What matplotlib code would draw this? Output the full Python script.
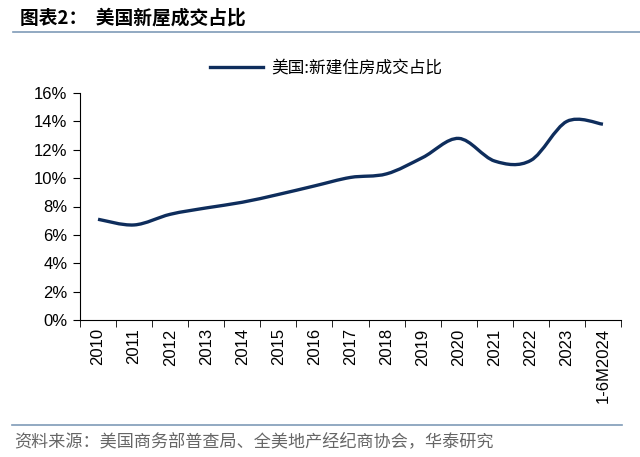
import matplotlib.pyplot as plt
from matplotlib.path import Path
from matplotlib.patches import PathPatch
from matplotlib.lines import Line2D
import numpy as np

plt.rcParams['font.family'] = ['Liberation Sans', 'Noto Sans CJK SC', 'DejaVu Sans']

categories = ["2010", "2011", "2012", "2013", "2014", "2015", "2016", "2017",
              "2018", "2019", "2020", "2021", "2022", "2023", "1-6M2024"]
share = [7.1, 6.7, 7.45, 7.9, 8.3, 8.85, 9.45, 10.05,
         10.3, 11.45, 12.8, 11.2, 11.25, 14.0, 13.8]
series_name = "美国:新建住房成交占比"
line_color = "#0E2D5C"


def smooth_path(xs, ys):
    # Excel-style smoothed line: Bezier segments through every point
    pts = np.column_stack([xs, ys]).astype(float)
    n = len(pts)
    verts = [pts[0]]
    codes = [Path.MOVETO]
    for i in range(n - 1):
        p0 = pts[i - 1] if i > 0 else pts[i]
        p1 = pts[i]
        p2 = pts[i + 1]
        p3 = pts[i + 2] if i + 2 < n else pts[i + 1]
        c1 = p1 + (p2 - p0) / 6
        c2 = p2 - (p3 - p1) / 6
        verts += [c1, c2, p2]
        codes += [Path.CURVE4] * 3
    return Path(verts, codes)


fig = plt.figure(figsize=(6.4, 4.57), dpi=100)
ax = fig.add_axes([80 / 640, 1 - 320 / 457, 541 / 640, 227 / 457])

x = np.arange(len(categories))
ax.add_patch(PathPatch(smooth_path(x, share), facecolor="none",
                       edgecolor=line_color, lw=2.4, capstyle="butt"))

ax.set_xlim(-0.5, len(categories) - 0.5)
ax.set_ylim(0, 16)
ax.set_yticks(range(0, 17, 2))
ax.set_yticklabels([f"{v}%" for v in range(0, 17, 2)], fontsize=12)
ax.set_xticks(x)
ax.set_xticklabels(categories, rotation=90, fontsize=12)
ax.tick_params(axis="x", length=0, pad=6)
ax.set_xticks(np.arange(-0.5, len(categories), 1), minor=True)
ax.tick_params(axis="x", which="minor", length=5, direction="out")
ax.tick_params(axis="y", length=5, direction="out", pad=4)
for s in ["top", "right"]:
    ax.spines[s].set_visible(False)

handle = Line2D([], [], color=line_color, lw=2.4)
fig.legend([handle], [series_name], loc="center", bbox_to_anchor=(0.51, 1 - 68 / 457),
           frameon=False, handlelength=3.2, handletextpad=0.5,
           prop={"family": ["Noto Sans CJK SC"], "size": 12})

fig.text(20 / 640, 1 - 18 / 457, "图表2：  美国新屋成交占比", fontsize=13.5, fontweight="bold",
         family=["Noto Sans CJK SC"], va="center", ha="left")
fig.add_artist(Line2D([13 / 640, 1], [1 - 32 / 457] * 2, color="#7F9BB8", lw=1.2))
fig.add_artist(Line2D([12 / 640, 622 / 640], [1 - 425 / 457] * 2, color="#7F9BB8", lw=1.2))
fig.text(14 / 640, 1 - 441 / 457, "资料来源：美国商务部普查局、全美地产经纪商协会，华泰研究", fontsize=12.3,
         color="#666666", family=["Noto Sans CJK SC"], va="center", ha="left")

fig.savefig("out.png", dpi=100)
